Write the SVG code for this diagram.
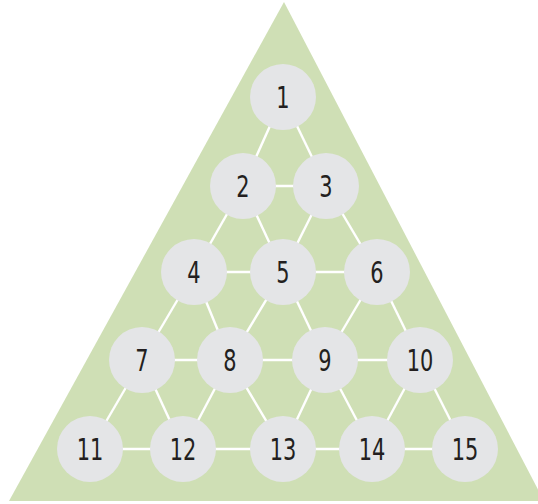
<svg xmlns="http://www.w3.org/2000/svg" width="538" height="504" viewBox="0 0 538 504">
<style>
.bg{fill:#ffffff}
.tri{fill:#cfdfb5}
.edge{stroke:#ffffff;stroke-width:2.4;fill:none}
.node circle{fill:#e4e5e7}
.node text{font-family:"DejaVu Sans Condensed","Liberation Sans",sans-serif;font-size:31px;fill:#231f20;text-anchor:middle;dominant-baseline:central}
</style>
<rect class="bg" x="0" y="0" width="538" height="504"/>
<polygon class="tri" points="284,2 9,501 544,501"/>
<g id="connectors">
<line class="edge" x1="283" y1="97" x2="243" y2="186"/>
<line class="edge" x1="283" y1="97" x2="326" y2="186"/>
<line class="edge" x1="243" y1="186" x2="326" y2="186"/>
<line class="edge" x1="243" y1="186" x2="194" y2="272"/>
<line class="edge" x1="243" y1="186" x2="283" y2="272"/>
<line class="edge" x1="326" y1="186" x2="283" y2="272"/>
<line class="edge" x1="326" y1="186" x2="377" y2="272"/>
<line class="edge" x1="194" y1="272" x2="283" y2="272"/>
<line class="edge" x1="283" y1="272" x2="377" y2="272"/>
<line class="edge" x1="194" y1="272" x2="142" y2="360"/>
<line class="edge" x1="194" y1="272" x2="230" y2="360"/>
<line class="edge" x1="283" y1="272" x2="230" y2="360"/>
<line class="edge" x1="283" y1="272" x2="325" y2="360"/>
<line class="edge" x1="377" y1="272" x2="325" y2="360"/>
<line class="edge" x1="377" y1="272" x2="420" y2="360"/>
<line class="edge" x1="142" y1="360" x2="230" y2="360"/>
<line class="edge" x1="230" y1="360" x2="325" y2="360"/>
<line class="edge" x1="325" y1="360" x2="420" y2="360"/>
<line class="edge" x1="142" y1="360" x2="90" y2="449"/>
<line class="edge" x1="142" y1="360" x2="183" y2="449"/>
<line class="edge" x1="230" y1="360" x2="183" y2="449"/>
<line class="edge" x1="230" y1="360" x2="283" y2="449"/>
<line class="edge" x1="325" y1="360" x2="283" y2="449"/>
<line class="edge" x1="325" y1="360" x2="372" y2="449"/>
<line class="edge" x1="420" y1="360" x2="372" y2="449"/>
<line class="edge" x1="420" y1="360" x2="465" y2="449"/>
<line class="edge" x1="90" y1="449" x2="183" y2="449"/>
<line class="edge" x1="183" y1="449" x2="283" y2="449"/>
<line class="edge" x1="283" y1="449" x2="372" y2="449"/>
<line class="edge" x1="372" y1="449" x2="465" y2="449"/>
</g>
<g id="n1" class="node"><circle cx="283" cy="97" r="33"/><text transform="translate(283,97) scale(0.75,1)">1</text></g>
<g id="n2" class="node"><circle cx="243" cy="186" r="33"/><text transform="translate(243,186) scale(0.75,1)">2</text></g>
<g id="n3" class="node"><circle cx="326" cy="186" r="33"/><text transform="translate(326,186) scale(0.75,1)">3</text></g>
<g id="n4" class="node"><circle cx="194" cy="272" r="33"/><text transform="translate(194,272) scale(0.75,1)">4</text></g>
<g id="n5" class="node"><circle cx="283" cy="272" r="33"/><text transform="translate(283,272) scale(0.75,1)">5</text></g>
<g id="n6" class="node"><circle cx="377" cy="272" r="33"/><text transform="translate(377,272) scale(0.75,1)">6</text></g>
<g id="n7" class="node"><circle cx="142" cy="360" r="33"/><text transform="translate(142,360) scale(0.75,1)">7</text></g>
<g id="n8" class="node"><circle cx="230" cy="360" r="33"/><text transform="translate(230,360) scale(0.75,1)">8</text></g>
<g id="n9" class="node"><circle cx="325" cy="360" r="33"/><text transform="translate(325,360) scale(0.75,1)">9</text></g>
<g id="n10" class="node"><circle cx="420" cy="360" r="33"/><text transform="translate(420,360) scale(0.75,1)">10</text></g>
<g id="n11" class="node"><circle cx="90" cy="449" r="33"/><text transform="translate(90,449) scale(0.75,1)">11</text></g>
<g id="n12" class="node"><circle cx="183" cy="449" r="33"/><text transform="translate(183,449) scale(0.75,1)">12</text></g>
<g id="n13" class="node"><circle cx="283" cy="449" r="33"/><text transform="translate(283,449) scale(0.75,1)">13</text></g>
<g id="n14" class="node"><circle cx="372" cy="449" r="33"/><text transform="translate(372,449) scale(0.75,1)">14</text></g>
<g id="n15" class="node"><circle cx="465" cy="449" r="33"/><text transform="translate(465,449) scale(0.75,1)">15</text></g>
</svg>
